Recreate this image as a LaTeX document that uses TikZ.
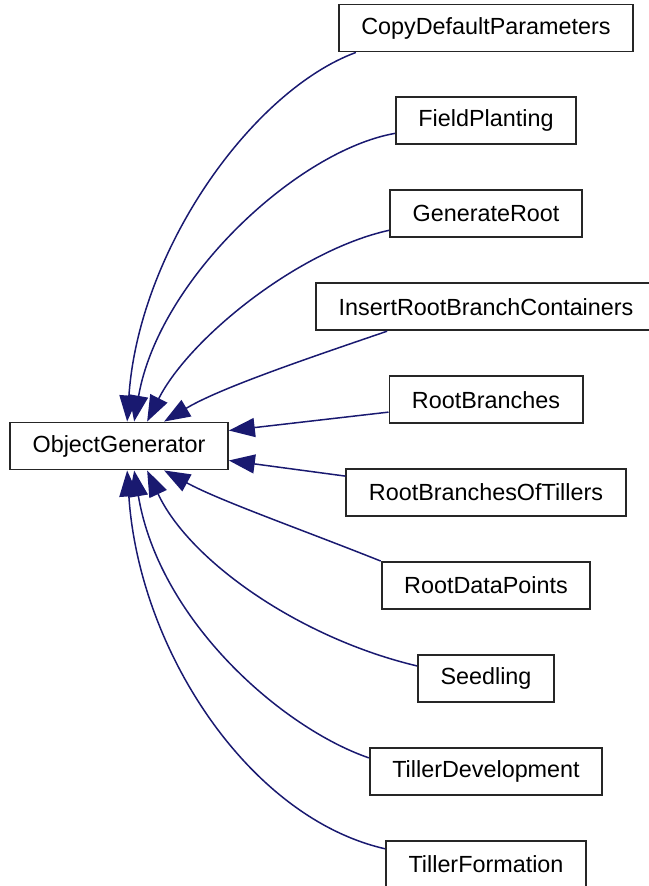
\documentclass[tikz,border=0pt]{standalone}
\usepackage{fontspec}
\setmainfont{Liberation Sans}
\usepackage{xcolor}
\usepackage{tikz}
\usetikzlibrary{arrows.meta, positioning}
\definecolor{edgeblue}{HTML}{191970}
\tikzset{
  box/.style={rectangle, draw=black!85, line width=1.1pt, fill=white, minimum height=0.94cm, inner xsep=0.45cm, font=\fontsize{13.3}{15}\selectfont},
  link/.style={-{Triangle[length=0.52cm, width=0.38cm]}, color=edgeblue, line width=0.85pt},
}

\begin{document}
\begin{tikzpicture}[x=0.02cm, y=-0.02cm, node distance=0.88cm]
    \useasboundingbox (0,0) rectangle (649,886);
    \node[box] (og) at (119,446) {ObjectGenerator};
    \node[box] (copy) at (486,28) {CopyDefaultParameters};
    \node[box, below=of copy] (field) {FieldPlanting};
    \node[box, below=of field] (genroot) {GenerateRoot};
    \node[box, below=of genroot] (insert) {InsertRootBranchContainers};
    \node[box, below=of insert] (rootbr) {RootBranches};
    \node[box, below=of rootbr] (rootbrt) {RootBranchesOfTillers};
    \node[box, below=of rootbrt] (rootdp) {RootDataPoints};
    \node[box, below=of rootdp] (seed) {Seedling};
    \node[box, below=of seed] (tdev) {TillerDevelopment};
    \node[box, below=of tdev] (tform) {TillerFormation};
    % upper children
    \draw[link] ([xshift=0.36cm]copy.south west) .. controls +(-103,38) and +(12,-173) .. ([xshift=2.36cm]og.north west);
    \draw[link] ([yshift=0.24cm]field.south west) .. controls +(-97,17) and +(25,-143) .. ([xshift=2.5cm]og.north west);
    \draw[link] ([yshift=0.16cm]genroot.south west) .. controls +(-91,20) and +(42,-83) .. ([xshift=2.76cm]og.north west);
    \draw[link] ([xshift=1.44cm]insert.south west) .. controls +(-85,29) and +(55,-33) .. ([xshift=3.1cm]og.north west);
    % side children
    \draw[link] ([yshift=0.24cm]rootbr.south west) -- ([yshift=-0.18cm]og.north east);
    \draw[link] ([yshift=-0.16cm]rootbrt.north west) -- ([yshift=0.2cm]og.south east);
    % lower children
    \draw[link] (rootdp.north west) .. controls +(-83,-33) and +(55,30) .. ([xshift=3.1cm]og.south west);
    \draw[link] ([yshift=-0.24cm]seed.north west) .. controls +(-118,-28) and +(42,90) .. ([xshift=2.76cm]og.south west);
    \draw[link] ([yshift=-0.22cm]tdev.north west) .. controls +(-87,-30) and +(25,150) .. ([xshift=2.5cm]og.south west);
    \draw[link] ([yshift=-0.18cm]tform.north west) .. controls +(-136,-31) and +(12,180) .. ([xshift=2.36cm]og.south west);
\end{tikzpicture}
\end{document}
